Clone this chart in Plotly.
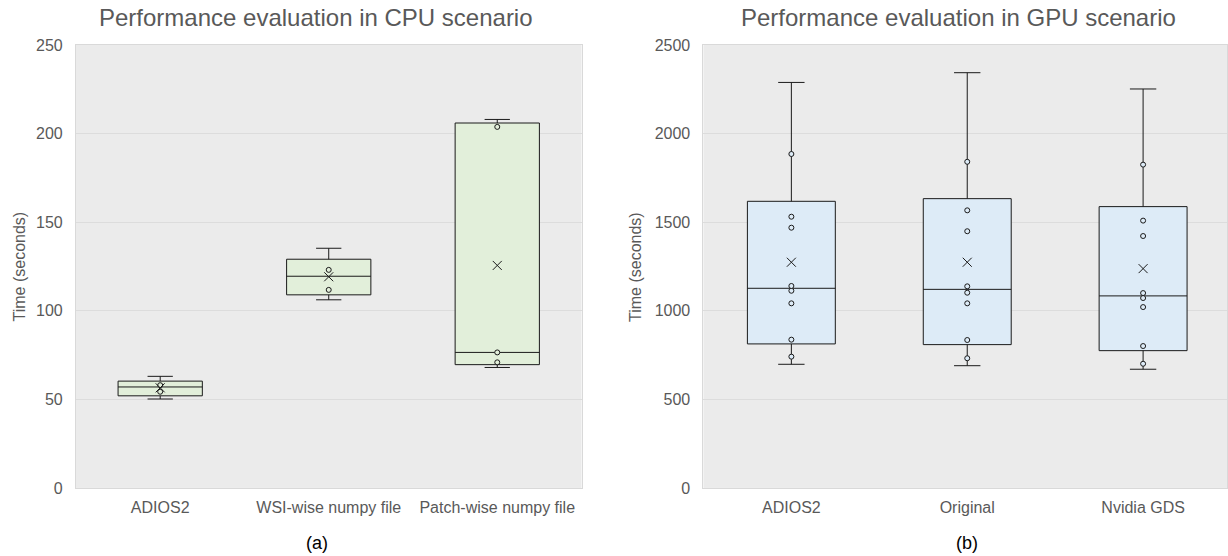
import plotly.graph_objects as go

# ---------------- CPU scenario data ----------------
cpu_cats = ["ADIOS2", "WSI-wise numpy file", "Patch-wise numpy file"]
cpu_lower = [50.2, 106.2, 68.0]
cpu_q1 = [52.0, 109.0, 69.6]
cpu_median = [57.0, 119.5, 76.5]
cpu_q3 = [60.3, 129.1, 206.0]
cpu_upper = [63.0, 135.3, 208.0]
cpu_mean = [56.5, 119.2, 125.6]
cpu_points = [
    [54.3, 58.0],
    [111.8, 123.1],
    [70.9, 76.5, 203.8],
]

# ---------------- GPU scenario data ----------------
gpu_cats = ["ADIOS2", "Original", "Nvidia GDS"]
gpu_lower = [698, 690, 670]
gpu_q1 = [813, 809, 775]
gpu_median = [1127, 1121, 1084]
gpu_q3 = [1618, 1633, 1588]
gpu_upper = [2289, 2344, 2252]
gpu_mean = [1274, 1274, 1238]
gpu_points = [
    [741, 837, 1042, 1113, 1140, 1469, 1531, 1885],
    [732, 835, 1042, 1102, 1138, 1449, 1567, 1841],
    [701, 801, 1021, 1072, 1100, 1422, 1509, 1825],
]

cpu_fill = "#E2EFDA"
gpu_fill = "#DDEBF7"
text_gray = "#595959"
font_main = "Liberation Sans, Arial, sans-serif"
line_col = "#1A1A1A"

fig = go.Figure()


def add_panel(cats, lower, q1, med, q3, upper, mean, points, fill, xa, ya):
    fig.add_trace(go.Box(
        x=cats, q1=q1, median=med, q3=q3, lowerfence=lower, upperfence=upper,
        fillcolor=fill, line=dict(color=line_col, width=1),
        whiskerwidth=0.3, width=0.5, boxpoints=False,
        xaxis=xa, yaxis=ya, showlegend=False, hoverinfo="skip",
    ))
    px, py = [], []
    for c, pts in zip(cats, points):
        for v in pts:
            px.append(c)
            py.append(v)
    fig.add_trace(go.Scatter(
        x=px, y=py, mode="markers",
        marker=dict(symbol="circle", size=5, color=fill,
                    line=dict(color=line_col, width=1)),
        xaxis=xa, yaxis=ya, showlegend=False, hoverinfo="skip",
    ))
    fig.add_trace(go.Scatter(
        x=cats, y=mean, mode="markers",
        marker=dict(symbol="x-thin-open", size=9, color=line_col,
                    line=dict(color=line_col, width=1)),
        xaxis=xa, yaxis=ya, showlegend=False, hoverinfo="skip",
    ))


add_panel(cpu_cats, cpu_lower, cpu_q1, cpu_median, cpu_q3, cpu_upper,
          cpu_mean, cpu_points, cpu_fill, "x", "y")
add_panel(gpu_cats, gpu_lower, gpu_q1, gpu_median, gpu_q3, gpu_upper,
          gpu_mean, gpu_points, gpu_fill, "x2", "y2")

W, H = 1228, 566


def py_(p):
    # pixel row (from top of the page) -> paper fraction
    return 1 - p / H


ydom = [py_(494.8), py_(38.2)]

xcommon = dict(showgrid=False, zeroline=False, showline=True, linecolor="#D9D9D9",
               mirror=True, ticks="", tickfont=dict(family=font_main, size=16, color=text_gray),
               ticklabelstandoff=5)
ycommon = dict(showgrid=True, gridcolor="#DCDCDC", gridwidth=1, zeroline=False,
               showline=True, linecolor="#D9D9D9", mirror=True, ticks="",
               tickfont=dict(family=font_main, size=16, color=text_gray),
               ticklabelstandoff=9)

fig.update_layout(
    width=W, height=H,
    margin=dict(l=0, r=0, t=0, b=0),
    paper_bgcolor="white",
    plot_bgcolor="#EBEBEB",
    xaxis=dict(domain=[76 / W, 582 / W], anchor="y", type="category",
               range=[-0.5, 2.5], **xcommon),
    yaxis=dict(domain=ydom, anchor="x", range=[0, 250], dtick=50, **ycommon),
    xaxis2=dict(domain=[704 / W, 1.0], anchor="y2", type="category",
                range=[-0.5, 2.477], **xcommon),
    yaxis2=dict(domain=ydom, anchor="x2", range=[0, 2500], dtick=500, **ycommon),
    annotations=[
        dict(text="Performance evaluation in CPU scenario", x=316 / W, y=py_(9.5),
             xref="paper", yref="paper", showarrow=False, xanchor="center", yanchor="middle",
             font=dict(family=font_main, size=24, color=text_gray)),
        dict(text="Performance evaluation in GPU scenario", x=959 / W, y=py_(9.5),
             xref="paper", yref="paper", showarrow=False, xanchor="center", yanchor="middle",
             font=dict(family=font_main, size=24, color=text_gray)),
        dict(text="Time (seconds)", x=20 / W, y=py_(266.5), textangle=-90,
             xref="paper", yref="paper", showarrow=False, xanchor="center", yanchor="middle",
             font=dict(family=font_main, size=16, color=text_gray)),
        dict(text="Time (seconds)", x=636 / W, y=py_(266.5), textangle=-90,
             xref="paper", yref="paper", showarrow=False, xanchor="center", yanchor="middle",
             font=dict(family=font_main, size=16, color=text_gray)),
        dict(text="(a)", x=317 / W, y=py_(551.5),
             xref="paper", yref="paper", showarrow=False, xanchor="center", yanchor="middle",
             font=dict(family=font_main, size=18, color="#000000")),
        dict(text="(b)", x=968 / W, y=py_(551.5),
             xref="paper", yref="paper", showarrow=False, xanchor="center", yanchor="middle",
             font=dict(family=font_main, size=18, color="#000000")),
    ],
)

fig.write_html(
    "out.html",
    config={"displayModeBar": False},
    post_script=(
        "document.body.style.margin='0';document.body.style.padding='0';"
    ),
)
